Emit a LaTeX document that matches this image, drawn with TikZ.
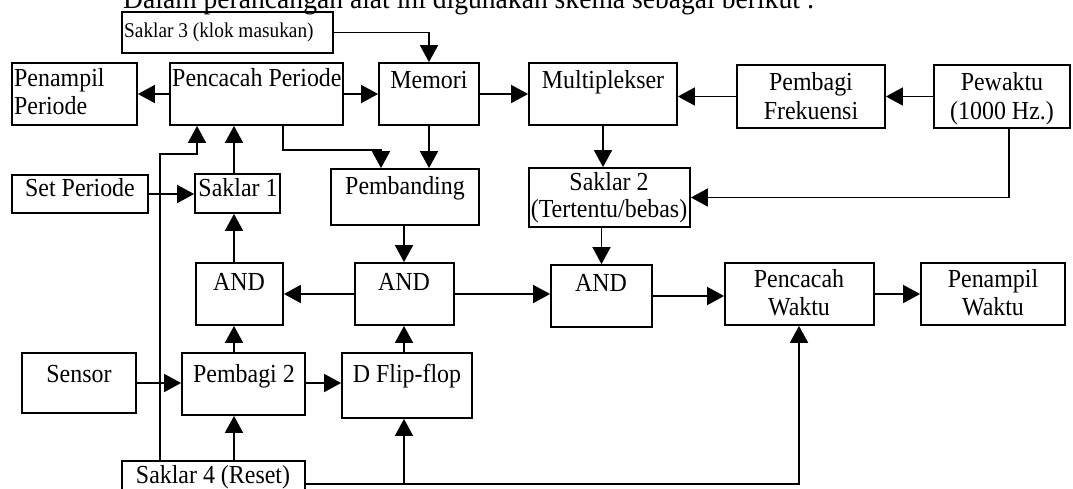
\documentclass[tikz,border=0pt]{standalone}
\usepackage{fontspec}
\setmainfont{Liberation Serif}[FakeStretch=0.92]
\usetikzlibrary{arrows.meta,fit}
\begin{document}
\begin{tikzpicture}[x=1pt,y=-1pt,
  box/.style={draw, line width=1.8pt, inner sep=0pt},
  lbl/.style={font=\fontsize{26}{28}\selectfont, inner sep=0pt, anchor=base},
  lblw/.style={lbl, anchor=base west},
  conn/.style={line width=1.8pt, -{Triangle[length=17pt,width=18pt]}},
  wire/.style={line width=1.8pt}]
\clip (0,0) rectangle (1073,488);
\fill[white] (0,0) rectangle (1073,488);
% header (cut off at the top, as in the reference)
\node[font=\fontsize{30}{32}\selectfont, inner sep=0pt, anchor=base west] (hdr) at (123,8) {Dalam perancangan alat ini digunakan skema sebagai berikut :};
% boxes
\node[box, fit={(122,12)(333,53)}] (s3) {};
\node[box, fit={(12,63)(137,125)}] (pen) {};
\node[box, fit={(170,63)(343,125)}] (pp) {};
\node[box, fit={(379,63)(479,125)}] (mem) {};
\node[box, fit={(529,63)(677,125)}] (mux) {};
\node[box, fit={(737,65)(885,128)}] (pf) {};
\node[box, fit={(934,65)(1070,128)}] (pw) {};
\node[box, fit={(12,175)(148,213)}] (set) {};
\node[box, fit={(195,174)(280,213)}] (s1) {};
\node[box, fit={(331,169)(479,225)}] (pb) {};
\node[box, fit={(529,168)(690,227)}] (s2) {};
\node[box, fit={(196,263)(283,325)}] (and1) {};
\node[box, fit={(355,263)(454,325)}] (and2) {};
\node[box, fit={(551,265)(652,327)}] (and3) {};
\node[box, fit={(725,263)(874,325)}] (pcw) {};
\node[box, fit={(921,263)(1065,325)}] (pnw) {};
\node[box, fit={(22,353)(136,413)}] (sen) {};
\node[box, fit={(182,353)(305,415)}] (pb2) {};
\node[box, fit={(342,353)(472,418)}] (dff) {};
\node[box, fit={(122,461)(305,500)}] (s4) {};
% labels
\node[font=\fontsize{21}{23}\selectfont, inner sep=0pt, anchor=base west] (ts3) at (124,37) {Saklar 3 (klok masukan)};
\node[lblw] (tpen1) at (14,86) {Penampil};
\node[lblw] (tpen2) at (14,114) {Periode};
\node[lblw] (tpp) at (172,86) {Pencacah Periode};
\node[lbl] (tmem) at (429,88) {Memori};
\node[lbl] (tmux) at (603,88) {Multiplekser};
\node[lbl] (tpf1) at (811,90) {Pembagi};
\node[lbl] (tpf2) at (811,119) {Frekuensi};
\node[lbl] (tpw1) at (1002,90) {Pewaktu};
\node[lbl] (tpw2) at (1002,119) {(1000 Hz.)};
\node[lbl] (tset) at (80,196) {Set Periode};
\node[lbl] (ts1) at (238,196) {Saklar 1};
\node[lbl] (tpb) at (405,194) {Pembanding};
\node[lbl] (ts2a) at (609,190) {Saklar 2};
\node[lbl] (ts2b) at (609,217) {(Tertentu/bebas)};
\node[lbl] (tand1) at (239,290) {AND};
\node[lbl] (tand2) at (404,290) {AND};
\node[lbl] (tand3) at (601,291) {AND};
\node[lbl] (tpcw1) at (799,287) {Pencacah};
\node[lbl] (tpcw2) at (799,315) {Waktu};
\node[lbl] (tpnw1) at (993,287) {Penampil};
\node[lbl] (tpnw2) at (993,315) {Waktu};
\node[lbl] (tsen) at (79,382) {Sensor};
\node[lbl] (tpb2) at (244,382) {Pembagi 2};
\node[lbl] (tdff) at (407,382) {D Flip-flop};
\node[lbl] (ts4) at (213,483) {Saklar 4 (Reset)};
% helper coordinates
\coordinate (vx) at (234,0);
\coordinate (lv) at (160,0);
\coordinate (ppin) at (197,0);
\coordinate (ppout) at (283,0);
\coordinate (dx) at (404,0);
\coordinate (px) at (799,0);
\coordinate (pwx) at (1009,0);
\coordinate (rl) at (0,484);
% connectors
\draw[conn] (s3.east) -| (mem.north);
\draw[conn] (pp.west) -- (pen.east);
\draw[conn] (pp.east) -- (mem.west);
\draw[conn] (mem.east) -- (mux.west);
\draw[conn] (pf.west) -- (pf.west -| mux.east);
\draw[conn] (pw.west) -- (pf.east);
\draw[conn] (pw.south -| pwx) |- (s2.east);
\draw[conn] (mux.south) -- (mux.south |- s2.north);
\draw[conn] (mem.south) -- (mem.south |- pb.north);
\draw[conn] (pp.south -| ppout) -- ++(0,24) -| ([xshift=-24pt]pb.north);
\draw[conn] (set.east) -- (set.east -| s1.west);
\draw[conn] (s1.north -| vx) -- (pp.south -| vx);
\draw[conn] (s4.north -| lv) |- ([yshift=-28pt]pp.south -| ppin) -- (pp.south -| ppin);
\draw[conn] (and1.north -| vx) -- (s1.south -| vx);
\draw[conn] (pb.south -| dx) -- (and2.north -| dx);
\draw[conn] (and2.west) -- (and1.east);
\draw[conn] (and2.east) -- (and2.east -| and3.west);
\draw[conn] (and3.north |- s2.south) -- (and3.north);
\draw[conn] (and3.east) -- (and3.east -| pcw.west);
\draw[conn] (pcw.east) -- (pnw.west);
\draw[conn] (sen.east) -- (sen.east -| pb2.west);
\draw[conn] (pb2.east |- sen.east) -- (sen.east -| dff.west);
\draw[conn] (pb2.north -| vx) -- (and1.south -| vx);
\draw[conn] (dff.north -| dx) -- (and2.south -| dx);
\draw[conn] (s4.north -| vx) -- (pb2.south -| vx);
\draw[conn] (s4.east |- rl) -| (pcw.south -| px);
\draw[conn] (dx |- rl) -- (dff.south -| dx);
\end{tikzpicture}
\end{document}
